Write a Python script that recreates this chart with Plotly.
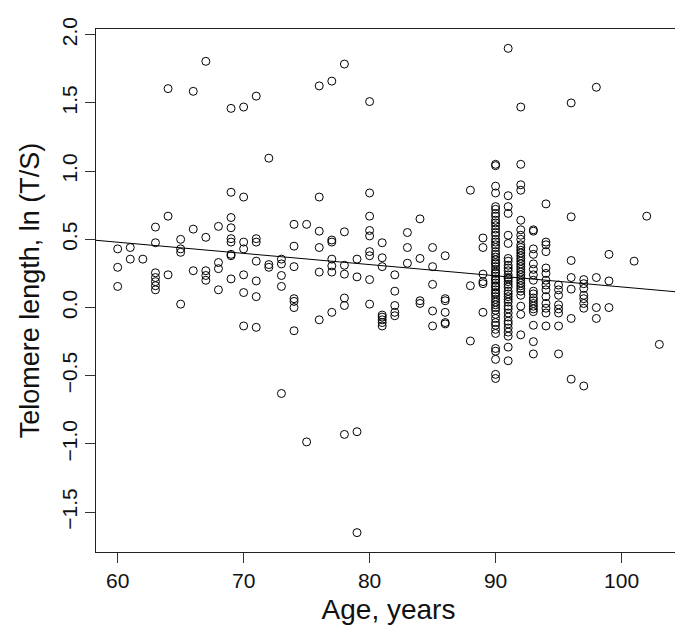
import plotly.graph_objects as go

# ---- data (age in years, ln(T/S)) ----
age_groups = [60, 61, 62, 63, 64, 65, 66, 67, 68, 69, 70, 71, 72, 73, 74, 75, 76, 77, 78, 79,
              80, 81, 82, 83, 84, 85, 86, 88, 89, 90, 91, 92, 93, 94, 95, 96, 97, 98, 99,
              101, 102, 103]
tl_groups = [
    [0.43, 0.295, 0.155],                                   # 60
    [0.44, 0.355],                                          # 61
    [0.355],                                                # 62
    [0.59, 0.475, 0.255, 0.22, 0.19, 0.16, 0.13],           # 63
    [1.605, 0.67, 0.24],                                    # 64
    [0.50, 0.43, 0.405, 0.025],                             # 65
    [1.585, 0.575, 0.27],                                   # 66
    [1.805, 0.515, 0.27, 0.235, 0.20],                      # 67
    [0.595, 0.33, 0.285, 0.13],                             # 68
    [1.46, 0.845, 0.66, 0.585, 0.505, 0.48, 0.39, 0.38, 0.21],   # 69
    [1.47, 0.81, 0.48, 0.43, 0.24, 0.11, -0.135],           # 70
    [1.55, 0.505, 0.48, 0.34, 0.195, 0.08, -0.145],         # 71
    [1.095, 0.315, 0.295],                                  # 72
    [0.355, 0.32, 0.235, 0.155, -0.63],                     # 73
    [0.61, 0.45, 0.30, 0.065, 0.045, 0.0, -0.17],           # 74
    [0.61, -0.985],                                         # 75
    [1.625, 0.81, 0.56, 0.44, 0.26, -0.09],                 # 76
    [1.66, 0.495, 0.48, 0.355, 0.305, 0.26, -0.035],        # 77
    [1.785, 0.555, 0.31, 0.245, 0.07, 0.015, -0.93],        # 78
    [0.355, 0.225, -0.91, -1.65],                           # 79
    [1.51, 0.84, 0.67, 0.565, 0.525, 0.41, 0.38, 0.205, 0.025],  # 80
    [0.475, 0.365, 0.30, -0.055, -0.07, -0.09, -0.11, -0.135],   # 81
    [0.24, 0.12, 0.015, -0.035, -0.06],                     # 82
    [0.55, 0.44, 0.325],                                    # 83
    [0.65, 0.36, 0.05, 0.03],                               # 84
    [0.44, 0.30, 0.17, -0.025, -0.135],                     # 85
    [0.38, 0.065, 0.05, -0.035, -0.11, -0.12],              # 86
    [0.86, 0.16, -0.245],                                   # 88
    [0.51, 0.44, 0.245, 0.19, 0.175, -0.035],               # 89
    [1.05, 1.04, 0.89, 0.84, 0.74, 0.72, 0.69, 0.67, 0.64, 0.62, 0.60, 0.575,
     0.55, 0.53, 0.50, 0.48, 0.46, 0.44, 0.41, 0.39, 0.37, 0.35, 0.33, 0.32,
     0.30, 0.28, 0.26, 0.25, 0.23, 0.21, 0.20, 0.18, 0.16, 0.15, 0.13, 0.11,
     0.10, 0.08, 0.06, 0.04, 0.02, 0.0, -0.02, -0.05, -0.08, -0.11, -0.13,
     -0.16, -0.19, -0.30, -0.32, -0.38, -0.49, -0.52],      # 90
    [1.90, 0.82, 0.74, 0.69, 0.53, 0.47, 0.36, 0.34, 0.31, 0.29, 0.27, 0.24,
     0.22, 0.21, 0.19, 0.17, 0.15, 0.12, 0.10, 0.08, 0.06, 0.04, 0.01, -0.01,
     -0.04, -0.07, -0.10, -0.12, -0.15, -0.18, -0.21, -0.29, -0.39],   # 91
    [1.47, 1.05, 0.90, 0.86, 0.64, 0.57, 0.53, 0.50, 0.46, 0.44, 0.42, 0.40,
     0.38, 0.36, 0.34, 0.32, 0.30, 0.28, 0.26, 0.24, 0.22, 0.20, 0.18, 0.16,
     0.14, 0.12, 0.09, 0.01, -0.05, -0.20],                 # 92
    [0.57, 0.56, 0.43, 0.39, 0.32, 0.28, 0.24, 0.20, 0.12, 0.10, 0.07, 0.05,
     0.03, 0.01, -0.01, -0.03, -0.13, -0.25, -0.34],        # 93
    [0.76, 0.48, 0.46, 0.41, 0.29, 0.25, 0.20, 0.165, 0.13, 0.08, 0.03,
     -0.005, -0.04, -0.135],                                # 94
    [0.165, 0.13, 0.09, 0.02, -0.01, -0.04, -0.135, -0.34], # 95
    [1.50, 0.665, 0.345, 0.22, 0.135, -0.08, -0.525],       # 96
    [0.205, 0.175, 0.14, 0.09, 0.065, 0.03, -0.005, -0.575],# 97
    [1.615, 0.22, 0.0, -0.08],                              # 98
    [0.39, 0.195, 0.0],                                     # 99
    [0.34],                                                 # 101
    [0.67],                                                 # 102
    [-0.27],                                                # 103
]

# fitted regression line
fit_intercept = 0.971
fit_slope = -0.0082

x_ticks = [60, 70, 80, 90, 100]
y_ticks = [-1.5, -1.0, -0.5, 0.0, 0.5, 1.0, 1.5, 2.0]
y_tick_text = ["\u22121.5", "\u22121.0", "\u22120.5", "0.0", "0.5", "1.0", "1.5", "2.0"]

ages = []
tl = []
for a, vals in zip(age_groups, tl_groups):
    for v in vals:
        ages.append(a)
        tl.append(v)

# R-style 4% axis extension
xmin, xmax = min(ages), max(ages)
ymin, ymax = min(tl), max(tl)
xr = [xmin - 0.04 * (xmax - xmin), xmax + 0.04 * (xmax - xmin)]
yr = [ymin - 0.04 * (ymax - ymin), ymax + 0.04 * (ymax - ymin)]

fig = go.Figure()
fig.add_trace(go.Scatter(
    x=ages, y=tl, mode="markers",
    marker=dict(symbol="circle-open", size=8, color="black",
                line=dict(width=1, color="black")),
    showlegend=False, hoverinfo="x+y",
))
fig.add_trace(go.Scatter(
    x=xr, y=[fit_intercept + fit_slope * v for v in xr], mode="lines",
    line=dict(color="black", width=1), showlegend=False, hoverinfo="skip",
))

font_family = "Liberation Sans, Arial, Helvetica, sans-serif"
fig.update_layout(
    width=683, height=628,
    margin=dict(l=88, r=10, t=21, b=84),
    paper_bgcolor="white", plot_bgcolor="white",
    font=dict(family=font_family, color="black"),
    xaxis=dict(
        range=xr, tickmode="array", tickvals=x_ticks,
        ticks="outside", ticklen=10, tickwidth=1, tickcolor="#333",
        showline=True, linecolor="#222", linewidth=1, mirror=True,
        showgrid=False, zeroline=False,
        tickfont=dict(size=21, family=font_family, color="#111"),
        title=dict(text="Age, years", font=dict(size=28, family=font_family, color="#111"),
                   standoff=8),
    ),
    yaxis=dict(
        range=yr, tickmode="array", tickvals=y_ticks, ticktext=y_tick_text,
        tickangle=-90,
        ticks="outside", ticklen=10, tickwidth=1, tickcolor="#333",
        showline=True, linecolor="#222", linewidth=1, mirror=True,
        showgrid=False, zeroline=False,
        tickfont=dict(size=21, family=font_family, color="#111"),
        title=dict(text="Telomere length, ln (T/S)",
                   font=dict(size=27, family=font_family, color="#111"), standoff=10),
    ),
)

fig.write_html("out.html")
